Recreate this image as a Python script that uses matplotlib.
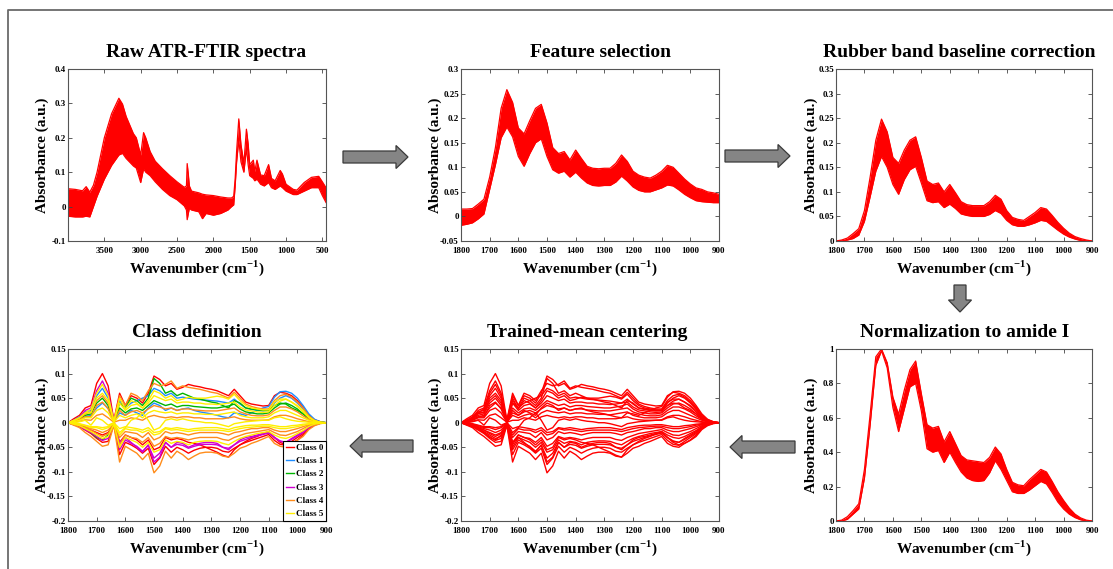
import numpy as np
import matplotlib
matplotlib.use('Agg')
import matplotlib.pyplot as plt
from matplotlib.patches import FancyArrow
from matplotlib.ticker import FuncFormatter

# ---- data (values in thousandths of absorbance unless noted) ----
# raw spectra, full range
raw_wn = [4000, 3900, 3800, 3750, 3700, 3650, 3600, 3500, 3400, 3300, 3250, 3200,
          3100, 3060, 3000, 2960, 2930, 2870, 2800, 2700, 2600, 2500, 2400, 2370,
          2360, 2345, 2330, 2300, 2200, 2150, 2100, 2000, 1900, 1800, 1750, 1720,
          1700, 1680, 1650, 1620, 1580, 1545, 1520, 1500, 1450, 1430, 1400, 1350,
          1300, 1240, 1200, 1150, 1080, 1050, 1000, 900, 850, 750, 650, 550, 500, 450]
raw_hi = [52, 50, 46, 58, 42, 62, 100, 200, 270, 315, 298, 262,
          212, 200, 150, 215, 200, 160, 132, 110, 90, 72, 56, 60,
          125, 95, 60, 45, 40, 36, 34, 32, 28, 25, 25, 30,
          80, 160, 255, 180, 125, 225, 180, 122, 135, 102, 135, 92,
          90, 122, 82, 75, 105, 95, 65, 50, 48, 70, 85, 88, 72, 55]
raw_lo = [-28, -30, -30, -28, -30, 0, 30, 80, 120, 150, 155, 140,
          118, 112, 70, 110, 100, 90, 72, 50, 32, 20, 2, -10,
          -38, -20, -5, -10, -15, -35, -20, -25, -20, -10, 0, 5,
          60, 130, 195, 130, 100, 170, 120, 90, 82, 75, 80, 65,
          60, 70, 55, 50, 60, 55, 45, 35, 35, 45, 55, 55, 32, 12]

# fingerprint region grid shared by the other panels
wn = [1800, 1780, 1760, 1740, 1720, 1700, 1680, 1660, 1640, 1620, 1600, 1580,
      1560, 1540, 1520, 1500, 1480, 1460, 1440, 1420, 1400, 1380, 1360, 1340,
      1320, 1300, 1280, 1260, 1240, 1220, 1200, 1180, 1160, 1140, 1120, 1100,
      1080, 1060, 1040, 1020, 1000, 980, 960, 940, 920, 900]

sel_hi = [15, 15, 16, 25, 35, 80, 140, 220, 258, 232, 180, 168,
          195, 220, 228, 190, 140, 128, 132, 115, 135, 118, 102, 98,
          97, 98, 98, 108, 125, 112, 92, 84, 80, 78, 84, 92,
          104, 100, 88, 76, 66, 58, 55, 50, 48, 45]
sel_lo = [-18, -16, -13, -5, 5, 55, 105, 160, 182, 162, 122, 102,
          128, 150, 158, 122, 95, 88, 92, 80, 90, 78, 68, 63,
          62, 63, 63, 70, 82, 72, 60, 53, 50, 50, 54, 58,
          64, 62, 54, 45, 38, 32, 30, 29, 28, 28]

rb_hi = [0, 2, 6, 15, 25, 62, 130, 205, 248, 222, 170, 158,
         185, 205, 212, 170, 122, 115, 118, 100, 115, 98, 80, 74,
         72, 72, 72, 80, 93, 85, 62, 48, 44, 42, 50, 58,
         68, 65, 52, 38, 26, 16, 9, 5, 2, 0]
rb_lo = [0, 0, 2, 5, 12, 40, 90, 142, 172, 150, 115, 95,
         125, 145, 152, 118, 82, 78, 80, 68, 75, 66, 55, 52,
         50, 50, 50, 54, 62, 56, 42, 33, 30, 30, 33, 37,
         42, 40, 31, 22, 14, 8, 4, 1, 0, 0]

norm_hi = [0, 5, 25, 60, 100, 300, 620, 955, 1000, 920, 720, 620,
           760, 880, 930, 740, 560, 540, 550, 460, 520, 450, 380, 355,
           350, 345, 340, 370, 430, 390, 300, 225, 210, 205, 240, 270,
           300, 285, 230, 170, 120, 75, 40, 18, 5, 0]
norm_lo = [0, 0, 10, 40, 70, 250, 560, 905, 990, 890, 660, 520,
           650, 780, 800, 640, 420, 400, 410, 340, 400, 340, 285, 250,
           235, 230, 235, 280, 350, 300, 235, 170, 160, 160, 180, 205,
           230, 215, 165, 110, 70, 40, 20, 7, 0, 0]

# mean-centred spectra (thousandths), one list per spectrum
centered_curves = [
    [0, 8, 15, 30, 35, 80, 100, 75, 5, 60, 35, 55, 50, 40, 60, 95, 88, 75, 80, 68, 72, 78, 75, 73,
     70, 68, 65, 60, 55, 68, 55, 42, 38, 36, 34, 35, 55, 62, 60, 55, 45, 32, 15, 6, 2, 0],
    [0, -5, -10, -20, -28, -38, -48, -45, -5, -80, -48, -55, -62, -75, -62, -102, -88, -58, -72, -58, -65, -75, -68, -62,
     -60, -60, -62, -68, -70, -62, -52, -48, -42, -38, -33, -28, -42, -48, -50, -42, -36, -28, -14, -6, -2, 0],
    [0, 5, 12, 22, 25, 55, 70, 50, 3, 45, 30, 40, 45, 50, 55, 70, 65, 55, 60, 50, 52, 50, 48, 47,
     46, 45, 44, 42, 40, 48, 38, 30, 27, 25, 24, 25, 40, 50, 55, 50, 40, 28, 12, 5, 1, 0],
    [0, 3, 8, 15, 18, 40, 50, 35, 2, 30, 20, 28, 30, 25, 35, 45, 40, 35, 38, 32, 35, 35, 33, 32,
     31, 30, 30, 32, 34, 38, 28, 22, 20, 18, 18, 20, 30, 38, 40, 35, 28, 18, 8, 3, 1, 0],
    [0, 2, 5, 10, 10, 25, 30, 20, 1, 15, 10, 15, 18, 10, 20, 25, 22, 20, 22, 18, 20, 20, 18, 18,
     17, 17, 16, 18, 20, 22, 15, 12, 10, 10, 10, 12, 20, 25, 25, 20, 15, 10, 5, 2, 0, 0],
    [0, 0, 2, 5, -5, 10, 5, -5, 0, -20, -10, 5, 10, 20, 5, -15, -10, 5, 8, 5, 8, 5, 3, 2,
     0, 0, -2, -5, -8, -2, 0, 2, 3, 4, 5, 5, 10, 12, 8, 5, 3, 2, 1, 0, 0, 0],
    [0, -2, -4, -8, -12, -15, -20, -15, -1, -30, -18, -20, -22, -30, -20, -35, -30, -18, -22, -20, -22, -25, -22, -20,
     -20, -20, -20, -22, -25, -20, -18, -15, -12, -12, -10, -10, -15, -18, -18, -15, -12, -8, -4, -2, 0, 0],
    [0, -3, -6, -12, -18, -25, -32, -28, -3, -50, -30, -35, -40, -50, -40, -60, -55, -35, -42, -38, -40, -45, -40, -38,
     -37, -37, -38, -42, -45, -38, -32, -28, -25, -22, -20, -18, -25, -30, -32, -28, -22, -16, -8, -3, -1, 0],
    [0, -4, -8, -15, -22, -32, -40, -38, -4, -65, -40, -45, -52, -62, -52, -85, -72, -48, -60, -50, -55, -62, -56, -52,
     -50, -50, -52, -58, -60, -52, -45, -40, -36, -32, -28, -24, -36, -44, -46, -38, -30, -22, -11, -4, -1, 0],
    [0, -2, -5, -10, -20, -30, -35, -25, 0, 40, 30, 50, 45, 35, 50, 90, 80, 60, 65, 55, 60, 55, 50, 48,
     45, 42, 40, 35, 30, 45, 40, 30, 28, 26, 25, 25, 35, 40, 38, 30, 25, 18, 8, 3, 1, 0],
    [0, 5, 10, 25, 30, 65, 85, 60, 4, -40, -30, -40, -50, -60, -45, -80, -70, -40, -50, -40, -42, -50, -45, -42,
     -40, -40, -42, -50, -55, -45, -35, -30, -28, -25, -22, -20, -30, -38, -40, -32, -25, -18, -9, -3, -1, 0],
    [0, 2, 6, 12, 15, 30, 40, 30, 2, 20, 15, 25, 20, 15, 30, 40, 35, 25, 30, 25, 28, 30, 25, 22,
     20, 18, 15, 12, 10, 20, 18, 15, 20, 25, 30, 33, 52, 63, 64, 60, 50, 35, 18, 7, 2, 0],
    [0, -3, -5, -10, -15, -20, -25, -20, -2, -40, -25, -30, -35, -45, -35, -55, -50, -30, -35, -32, -35, -40, -42, -45,
     -50, -55, -60, -66, -70, -55, -45, -38, -32, -28, -22, -18, -30, -40, -45, -42, -35, -25, -12, -5, -1, 0],
    [0, 4, 8, 18, 22, 45, 55, 40, 3, 55, 35, 60, 55, 45, 65, 80, 75, 78, 85, 70, 75, 72, 70, 68,
     65, 62, 60, 55, 50, 62, 50, 38, 33, 30, 28, 28, 45, 55, 58, 52, 42, 30, 14, 5, 1, 0],
    [0, 4, 10, 20, 28, 60, 78, 55, 3, 50, 28, 45, 40, 30, 45, 65, 60, 50, 55, 45, 48, 52, 50, 50,
     50, 52, 54, 52, 48, 58, 45, 35, 30, 28, 26, 26, 42, 48, 48, 42, 35, 25, 12, 4, 1, 0],
    [0, 1, 3, 6, 5, 15, 18, 10, 1, 5, 5, 10, 8, 5, 12, 15, 12, 10, 12, 10, 12, 12, 10, 10,
     8, 8, 8, 8, 10, 12, 8, 6, 5, 5, 5, 6, 12, 15, 15, 12, 8, 5, 2, 1, 0, 0],
    [0, -1, -2, -5, -8, -8, -10, -8, 0, -12, -8, -10, -12, -15, -10, -20, -18, -10, -12, -10, -12, -14, -12, -11,
     -10, -10, -10, -12, -14, -10, -8, -6, -5, -5, -4, -4, -6, -8, -8, -6, -5, -3, -2, -1, 0, 0],
    [0, -4, -7, -14, -20, -28, -36, -32, -3, -55, -35, -42, -48, -58, -46, -72, -62, -40, -50, -44, -46, -52, -48, -45,
     -44, -44, -45, -50, -52, -45, -38, -34, -30, -27, -24, -21, -30, -37, -40, -34, -27, -20, -10, -4, -1, 0],
    [0, 3, 6, 12, 12, 35, 42, 28, 2, 25, 15, 22, 25, 20, 28, 35, 32, 28, 30, 25, 28, 28, 26, 25,
     24, 24, 24, 26, 28, 30, 22, 18, 15, 14, 14, 16, 25, 32, 32, 28, 22, 14, 7, 2, 0, 0],
    [0, -2, -3, -6, -10, -10, -14, -10, -1, -25, -12, -15, -15, -20, -15, -25, -22, -12, -15, -14, -16, -18, -16, -15,
     -15, -15, -15, -16, -18, -15, -12, -10, -9, -8, -7, -7, -10, -12, -12, -10, -8, -5, -3, -1, 0, 0],
    [0, 5, 10, 20, 20, 50, 60, 45, 3, 40, 25, 35, 38, 30, 40, 55, 50, 45, 48, 40, 42, 42, 40, 40,
     38, 38, 37, 38, 40, 42, 32, 26, 24, 22, 21, 22, 35, 44, 48, 42, 33, 22, 10, 4, 1, 0],
    [0, -3, -6, -10, -15, -22, -28, -22, -2, -45, -25, -30, -32, -40, -30, -48, -42, -28, -32, -30, -32, -35, -32, -30,
     -30, -30, -30, -34, -36, -30, -26, -22, -20, -18, -16, -14, -20, -25, -26, -22, -18, -12, -6, -2, 0, 0],
]
curve_class = [0, 4, 1, 2, 5, 5, 4, 5, 0, 2, 3, 1, 0, 4, 5, 4, 5, 3, 4, 5, 5, 4]
class_names = ['Class 0', 'Class 1', 'Class 2', 'Class 3', 'Class 4', 'Class 5']
class_colors = ['#ff0000', '#1e8cff', '#00b400', '#d000d0', '#ff8c1a', '#ffee00']

titles = ['Raw ATR-FTIR spectra', 'Feature selection', 'Rubber band baseline correction',
          'Class definition', 'Trained-mean centering', 'Normalization to amide I']

W, H = 1113, 569
SERIF = 'Liberation Serif'


def px_box(l, t, r, b):
    return [l / W, 1 - b / H, (r - l) / W, (b - t) / H]


def style_axes(ax, xlim, xticks, ylim, yticks):
    ax.set_xlim(*xlim)
    ax.set_ylim(*ylim)
    ax.set_xticks(xticks)
    ax.set_yticks(yticks)
    ax.yaxis.set_major_formatter(FuncFormatter(lambda v, p: '%g' % round(v, 3)))
    ax.tick_params(direction='in', top=True, right=True, length=3, width=0.6,
                   color='#444444', labelsize=6.5)
    ax.tick_params(axis='x', pad=4.5)
    ax.tick_params(axis='y', pad=1.5)
    for lab in ax.get_xticklabels() + ax.get_yticklabels():
        lab.set_fontfamily(SERIF)
        lab.set_fontweight('bold')
    for s in ax.spines.values():
        s.set_color('#555555')
        s.set_linewidth(0.8)
    ax.set_xlabel('Wavenumber (cm$^{\\mathbf{-1}}$)', fontfamily=SERIF, fontweight='bold', fontsize=11)
    ax.set_ylabel('Absorbance (a.u.)', fontfamily=SERIF, fontweight='bold', fontsize=11)
    ax.xaxis.set_label_coords(0.5, -0.1)
    ax.yaxis.set_label_coords(-0.072, 0.5)


plt.rcParams['mathtext.fontset'] = 'custom'
plt.rcParams['mathtext.rm'] = 'Liberation Serif:bold'
plt.rcParams['mathtext.bf'] = 'Liberation Serif:bold'

fig = plt.figure(figsize=(W / 100, H / 100), dpi=100)
fig.patch.set_facecolor('white')

# overlay in pixel coordinates for frame and arrows
ov = fig.add_axes([0, 0, 1, 1])
ov.set_xlim(0, W)
ov.set_ylim(H, 0)
ov.axis('off')
ov.plot([8, 8, W], [H, 10, 10], color='#6a6a6a', lw=1.3)
arrows = [(343, 157, 65, 0), (725, 156, 65, 0), (960, 285, 0, 27),
          (795, 447, -65, 0), (413, 446, -63, 0)]
for x, y, dx, dy in arrows:
    ov.add_patch(FancyArrow(x, y, dx, dy, width=12, head_width=23, head_length=12,
                            length_includes_head=True, facecolor='#858585',
                            edgecolor='#3a3a3a', lw=0.9))

fine_ticks = [1800, 1700, 1600, 1500, 1400, 1300, 1200, 1100, 1000, 900]
k = 1000.0
red = '#ff0000'


def band(ax, x, lo, hi):
    lo = np.array(lo) / k
    hi = np.array(hi) / k
    ax.fill_between(x, lo, hi, color=red, lw=0)
    ax.plot(x, hi, color=red, lw=0.9)
    ax.plot(x, lo, color=red, lw=0.9)


# 1 raw
ax1 = fig.add_axes(px_box(68, 69, 326, 241))
band(ax1, raw_wn, raw_lo, raw_hi)
style_axes(ax1, (4000, 450), [3500, 3000, 2500, 2000, 1500, 1000, 500],
           (-0.1, 0.4), [-0.1, 0, 0.1, 0.2, 0.3, 0.4])

# 2 feature selection
ax2 = fig.add_axes(px_box(461, 69, 719, 241))
band(ax2, wn, sel_lo, sel_hi)
style_axes(ax2, (1800, 900), fine_ticks, (-0.05, 0.3),
           [-0.05, 0, 0.05, 0.1, 0.15, 0.2, 0.25, 0.3])

# 3 rubber band
ax3 = fig.add_axes(px_box(836, 69, 1092, 241))
band(ax3, wn, rb_lo, rb_hi)
style_axes(ax3, (1800, 900), fine_ticks, (0, 0.35),
           [0, 0.05, 0.1, 0.15, 0.2, 0.25, 0.3, 0.35])

# 6 normalization
ax6 = fig.add_axes(px_box(836, 349, 1092, 521))
band(ax6, wn, norm_lo, norm_hi)
style_axes(ax6, (1800, 900), fine_ticks, (0, 1), [0, 0.2, 0.4, 0.6, 0.8, 1])

# 5 trained-mean centering
ax5 = fig.add_axes(px_box(461, 349, 719, 521))
for c in centered_curves:
    ax5.plot(wn, np.array(c) / k, color=red, lw=1.0)
style_axes(ax5, (1800, 900), fine_ticks, (-0.2, 0.15),
           [-0.2, -0.15, -0.1, -0.05, 0, 0.05, 0.1, 0.15])

# 4 class definition
ax4 = fig.add_axes(px_box(68, 349, 326, 521))
for cls in range(len(class_names)):
    first = True
    for c, cc in zip(centered_curves, curve_class):
        if cc != cls:
            continue
        ax4.plot(wn, np.array(c) / k, color=class_colors[cls], lw=1.0,
                 label=class_names[cls] if first else None)
        first = False
style_axes(ax4, (1800, 900), fine_ticks, (-0.2, 0.15),
           [-0.2, -0.15, -0.1, -0.05, 0, 0.05, 0.1, 0.15])
leg = ax4.legend(loc='lower right', borderaxespad=0, fancybox=False, framealpha=1,
                 edgecolor='black', handlelength=0.9, handletextpad=0.2,
                 labelspacing=0.55, borderpad=0.3,
                 prop={'family': SERIF, 'weight': 'bold', 'size': 6.5})
leg.get_frame().set_linewidth(0.8)

# titles
title_pos = [(206, 57), (600, 57), (959, 57), (197, 337), (587, 337), (965, 337)]
for t, (cx, by) in zip(titles, title_pos):
    fig.text(cx / W, 1 - by / H, t, ha='center', va='baseline', fontfamily=SERIF,
             fontweight='bold', fontsize=14)

fig.savefig('out.png', dpi=100, facecolor='white')
